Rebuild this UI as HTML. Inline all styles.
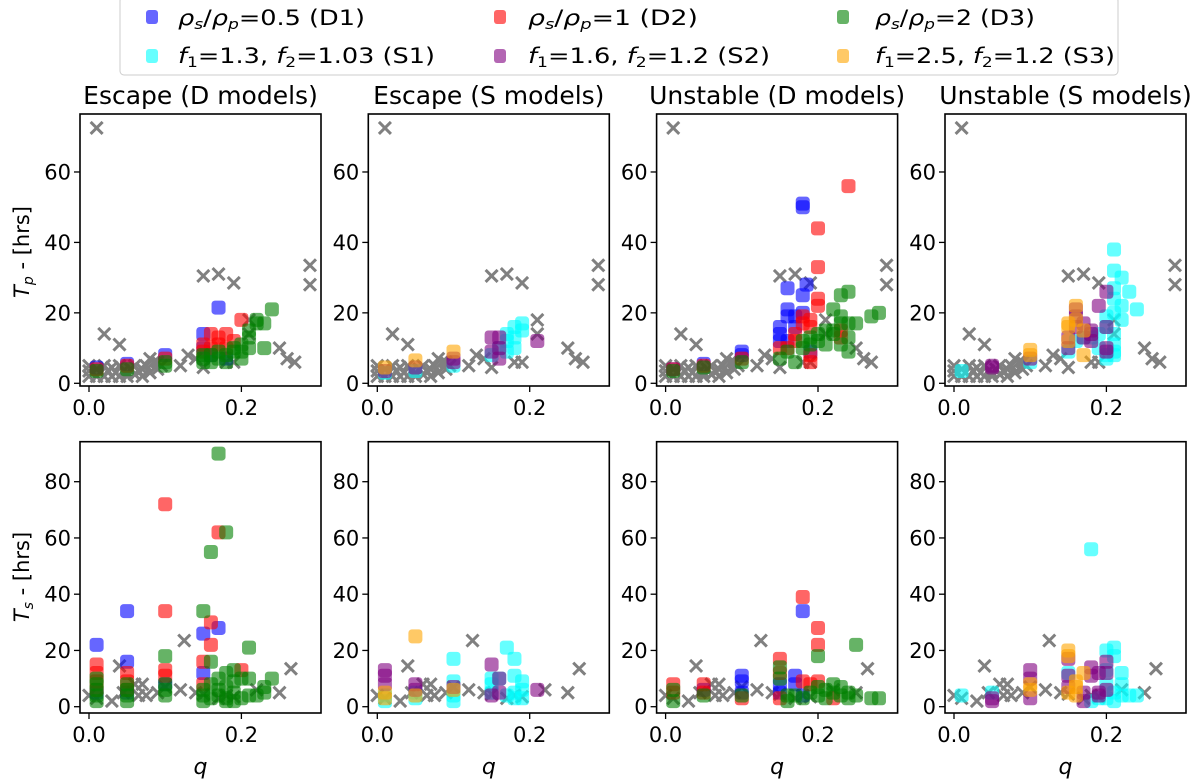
<!DOCTYPE html>
<html><head><meta charset="utf-8"><style>
body{margin:0;background:#fff;}
svg{display:block;font-family:"DejaVu Sans","Liberation Sans",sans-serif;}
</style></head><body>
<svg id="fig" width="1200" height="780" viewBox="0 0 1200 780" xmlns="http://www.w3.org/2000/svg">
<g id="legend">
<rect x="120" y="-3" width="998" height="78" rx="4" fill="#fff" stroke="#ccc" stroke-width="1"/>
<g><rect x="146" y="10" width="12" height="14" rx="3" fill="#0000ff" fill-opacity="0.6"/><text x="178" y="25" font-size="21" textLength="187" lengthAdjust="spacingAndGlyphs"><tspan font-style="italic">ρ</tspan><tspan font-size="14" dy="4" font-style="italic">s</tspan><tspan dy="-4">/</tspan><tspan font-style="italic">ρ</tspan><tspan font-size="14" dy="4" font-style="italic">p</tspan><tspan dy="-4">=0.5 (D1)</tspan></text></g>
<g><rect x="494" y="10" width="12" height="14" rx="3" fill="#ff0000" fill-opacity="0.6"/><text x="528" y="25" font-size="21" textLength="170" lengthAdjust="spacingAndGlyphs"><tspan font-style="italic">ρ</tspan><tspan font-size="14" dy="4" font-style="italic">s</tspan><tspan dy="-4">/</tspan><tspan font-style="italic">ρ</tspan><tspan font-size="14" dy="4" font-style="italic">p</tspan><tspan dy="-4">=1 (D2)</tspan></text></g>
<g><rect x="837" y="10" width="12" height="14" rx="3" fill="#008000" fill-opacity="0.6"/><text x="875" y="25" font-size="21" textLength="160" lengthAdjust="spacingAndGlyphs"><tspan font-style="italic">ρ</tspan><tspan font-size="14" dy="4" font-style="italic">s</tspan><tspan dy="-4">/</tspan><tspan font-style="italic">ρ</tspan><tspan font-size="14" dy="4" font-style="italic">p</tspan><tspan dy="-4">=2 (D3)</tspan></text></g>
<g><rect x="146" y="49" width="12" height="14" rx="3" fill="#00ffff" fill-opacity="0.6"/><text x="178" y="63" font-size="21" textLength="257" lengthAdjust="spacingAndGlyphs"><tspan font-style="italic">f</tspan><tspan font-size="14" dy="4">1</tspan><tspan dy="-4">=1.3, </tspan><tspan font-style="italic">f</tspan><tspan font-size="14" dy="4">2</tspan><tspan dy="-4">=1.03 (S1)</tspan></text></g>
<g><rect x="494" y="49" width="12" height="14" rx="3" fill="#800080" fill-opacity="0.6"/><text x="528" y="63" font-size="21" textLength="242" lengthAdjust="spacingAndGlyphs"><tspan font-style="italic">f</tspan><tspan font-size="14" dy="4">1</tspan><tspan dy="-4">=1.6, </tspan><tspan font-style="italic">f</tspan><tspan font-size="14" dy="4">2</tspan><tspan dy="-4">=1.2 (S2)</tspan></text></g>
<g><rect x="837" y="49" width="12" height="14" rx="3" fill="#ffa500" fill-opacity="0.6"/><text x="875" y="63" font-size="21" textLength="240" lengthAdjust="spacingAndGlyphs"><tspan font-style="italic">f</tspan><tspan font-size="14" dy="4">1</tspan><tspan dy="-4">=2.5, </tspan><tspan font-style="italic">f</tspan><tspan font-size="14" dy="4">2</tspan><tspan dy="-4">=1.2 (S3)</tspan></text></g>
</g>
<text x="0" y="0" font-size="21" text-anchor="middle" transform="translate(29,252) rotate(-90)"><tspan font-style="italic">T</tspan><tspan font-size="14" dy="4" font-style="italic">p</tspan><tspan dy="-4"> - [hrs]</tspan></text>
<text x="0" y="0" font-size="21" text-anchor="middle" transform="translate(29,577) rotate(-90)"><tspan font-style="italic">T</tspan><tspan font-size="14" dy="4" font-style="italic">s</tspan><tspan dy="-4">  - [hrs]</tspan></text>
</svg>
<script>
// ---- data ----
const titles = ["Escape (D models)","Escape (S models)","Unstable (D models)","Unstable (S models)"];
const xTicks = [0.0, 0.2];
const xTickLabels = ["0.0","0.2"];
const yTicksTop = [0,20,40,60];
const yTicksBot = [0,20,40,60,80];
const crossTop = [[0.01,72.5],[0.02,14],[0.04,11],[0.15,30.5],[0.17,31],[0.19,28.5],[0.29,33.5],[0.29,28],[0.21,18],[0.21,14],[0.25,10],[0.26,7],[0.27,6],[0.19,6],[0.18,6],[0.12,5],[0.13,8],[0.14,7],[0.15,4.5],[0.08,7],[0.09,6],[0.07,4],
[0,2],[0,3.5],[0,5],[0.01,2],[0.01,4],[0.015,3],[0.02,2],[0.02,5],[0.025,3.5],[0.03,2],[0.03,4.5],[0.035,3],[0.04,2],[0.04,5],[0.045,3.5],[0.05,2],[0.055,4],[0.06,2.5],[0.06,5],[0.065,3.5],[0.07,2],[0.075,5],[0.08,3],[0.085,6],[0.09,4],[0.095,5],[0.05,3]];
const crossBot = [[0.00,4],[0.01,3],[0.03,2],[0.04,14.5],[0.045,5],[0.06,8],[0.065,4],[0.07,8],[0.075,4],[0.09,5],[0.1,7],[0.12,6],[0.125,23.5],[0.14,5],[0.15,4.5],[0.17,3],[0.18,4],[0.19,3.5],[0.22,6],[0.25,5],[0.265,13.5]];
const escD_top_D1 = [[0.01,4.5],[0.05,5.5],[0.1,8],[0.15,14],[0.15,10],[0.17,21.5],[0.16,8],[0.18,7]];
const escD_top_D2 = [[0.01,4],[0.05,5],[0.1,7],[0.15,9],[0.15,11],[0.16,14],[0.17,13],[0.18,14],[0.19,12],[0.2,18],[0.16,10],[0.17,11],[0.18,10]];
const escD_top_D3 = [[0.01,3.5],[0.05,4],[0.1,5],[0.1,6],[0.15,6],[0.15,7],[0.15,8],[0.16,6],[0.16,8],[0.17,7],[0.17,9],[0.18,6],[0.18,8],[0.19,9],[0.19,10],[0.2,7],[0.2,11],[0.21,13],[0.21,15],[0.22,17],[0.22,18],[0.23,17],[0.24,21],[0.23,10],[0.2,9],[0.21,10]];
const escS_top_S1 = [[0.01,3],[0.05,3.5],[0.1,5],[0.15,8],[0.16,10],[0.17,12],[0.17,14],[0.18,13],[0.18,16],[0.19,15],[0.19,17],[0.18,10],[0.17,9]];
const escS_top_S2 = [[0.01,3.5],[0.05,4.5],[0.1,6],[0.1,7],[0.15,13],[0.16,13],[0.16,10],[0.21,12],[0.15,9],[0.16,7]];
const escS_top_S3 = [[0.01,4.5],[0.05,6.5],[0.1,9]];
const unsD_top_D1 = [[0.01,4],[0.05,5.5],[0.1,8],[0.1,9],[0.15,16],[0.15,14],[0.16,21],[0.16,19],[0.16,12],[0.16,27],[0.17,19],[0.17,16],[0.18,25],[0.18,20],[0.18,50],[0.18,51],[0.185,28],[0.15,12],[0.19,9]];
const unsD_top_D2 = [[0.01,4],[0.05,5],[0.1,7],[0.15,10],[0.16,10],[0.17,12],[0.17,14],[0.18,17],[0.18,19],[0.19,16],[0.19,18],[0.2,24],[0.2,22],[0.2,33],[0.2,44],[0.24,56],[0.23,15],[0.23,13],[0.19,8],[0.19,6]];
const unsD_top_D3 = [[0.01,3.5],[0.05,4.5],[0.1,6],[0.15,7],[0.16,9],[0.17,6],[0.18,10],[0.18,12],[0.19,11],[0.19,13],[0.2,14],[0.2,12],[0.21,15],[0.21,11],[0.22,14],[0.22,15],[0.22,21],[0.23,25],[0.23,19],[0.23,17],[0.24,26],[0.24,17],[0.24,13],[0.24,9],[0.25,17],[0.27,19],[0.28,20],[0.23,11]];
const unsS_top_S1 = [[0.01,3.5],[0.1,6],[0.15,9],[0.16,12],[0.17,13],[0.18,13],[0.19,10],[0.19,14],[0.2,16],[0.2,19],[0.2,8],[0.21,11],[0.21,20],[0.21,24],[0.21,27],[0.21,32],[0.21,38],[0.22,22],[0.22,30],[0.22,18],[0.21,14],[0.21,9],[0.23,26],[0.24,21],[0.2,7],[0.21,8]];
const unsS_top_S2 = [[0.05,4.5],[0.05,5],[0.1,7],[0.15,10],[0.15,13],[0.16,16],[0.16,19],[0.16,21],[0.17,17],[0.18,14],[0.18,15],[0.18,12],[0.19,22],[0.2,10],[0.2,16],[0.2,9],[0.2,26],[0.17,13]];
const unsS_top_S3 = [[0.1,8],[0.1,9.5],[0.15,12],[0.15,17],[0.15,16],[0.16,22],[0.16,18],[0.17,15],[0.17,8]];
const escD_bot_D1 = [[0.01,22],[0.05,34],[0.05,16],[0.1,8],[0.15,26],[0.15,12],[0.17,28],[0.01,5],[0.05,5]];
const escD_bot_D2 = [[0.01,15],[0.01,12],[0.01,9],[0.05,12],[0.05,9],[0.1,72],[0.1,34],[0.1,13],[0.1,11],[0.15,16],[0.15,8],[0.16,30],[0.16,22],[0.17,62],[0.2,13],[0.01,6],[0.05,6]];
const escD_bot_D3 = [[0.01,2],[0.01,4],[0.01,6],[0.01,8],[0.01,10],[0.05,2],[0.05,4],[0.05,6],[0.05,8],[0.1,4],[0.1,6],[0.1,8],[0.1,18],[0.15,34],[0.15,2],[0.15,4],[0.15,6],[0.16,55],[0.17,90],[0.18,62],[0.16,16],[0.16,3],[0.16,8],[0.17,4],[0.17,10],[0.17,6],[0.18,3],[0.18,7],[0.18,12],[0.19,5],[0.19,9],[0.19,13],[0.2,3],[0.2,10],[0.21,21],[0.21,4],[0.21,10],[0.22,4],[0.23,5],[0.23,7],[0.24,10],[0.18,2],[0.19,2]];
const escS_bot_S1 = [[0.01,2],[0.01,4],[0.05,3],[0.05,5],[0.1,2],[0.1,4],[0.1,6],[0.1,9],[0.1,17],[0.15,5],[0.15,8],[0.15,10],[0.16,10],[0.17,21],[0.18,17],[0.18,11],[0.18,5],[0.19,9],[0.19,6],[0.17,4],[0.18,3],[0.19,3]];
const escS_bot_S2 = [[0.01,13],[0.01,11],[0.01,8],[0.05,8],[0.05,6],[0.1,7],[0.15,15],[0.15,4],[0.16,10],[0.16,5],[0.21,6]];
const escS_bot_S3 = [[0.01,3],[0.01,5],[0.05,25],[0.05,4],[0.1,6]];
const unsD_bot_D1 = [[0.05,6],[0.1,11],[0.1,9],[0.1,5],[0.15,8],[0.15,5],[0.18,34],[0.17,11],[0.17,8],[0.18,4]];
const unsD_bot_D2 = [[0.01,8],[0.01,5],[0.05,8],[0.05,5],[0.1,3],[0.15,17],[0.15,12],[0.15,3],[0.18,39],[0.2,28],[0.2,22],[0.18,9],[0.19,8],[0.2,9],[0.22,3]];
const unsD_bot_D3 = [[0.01,6],[0.01,2],[0.05,4],[0.1,4],[0.15,14],[0.15,10],[0.16,4],[0.16,2],[0.17,4],[0.18,3],[0.19,5],[0.2,18],[0.2,4],[0.2,7],[0.21,6],[0.21,3],[0.22,5],[0.22,8],[0.23,7],[0.23,4],[0.24,5],[0.24,3],[0.25,22],[0.25,4],[0.27,3],[0.28,3]];
const unsS_bot_S1 = [[0.01,4],[0.05,5],[0.15,12],[0.18,56],[0.2,20],[0.21,21],[0.21,18],[0.2,13],[0.2,8],[0.21,5],[0.21,2],[0.22,12],[0.22,8],[0.22,4],[0.23,4],[0.24,4],[0.2,3],[0.19,3],[0.18,2]];
const unsS_bot_S2 = [[0.05,3],[0.05,2],[0.1,13],[0.1,10],[0.1,3],[0.15,17],[0.15,11],[0.15,7],[0.17,2],[0.17,5],[0.18,14],[0.18,11],[0.19,12],[0.19,5],[0.2,16],[0.2,12],[0.2,6],[0.19,4]];
const unsS_bot_S3 = [[0.1,8],[0.1,6],[0.15,20],[0.15,18],[0.15,5],[0.16,9],[0.16,7],[0.17,12],[0.16,4]];

// ---- layout ----
const NS = "http://www.w3.org/2000/svg";
const svg = document.getElementById("fig");
const panelLefts = [80, 368.3, 656.6, 945];
const boxW = 241;
const TOP = {y0:114, y1:386, zero:383.3, perUnit:3.522};
const BOT = {y0:441.7, y1:713, zero:706.7, perUnit:2.8125};
const colors = {D1:"#0000ff", D2:"#ff0000", D3:"#008000", S1:"#00ffff", S2:"#800080", S3:"#ffa500"};
function xScale(q, left){ return left + 9 + q * 762; }
function yScale(v, row){ return row.zero - v * row.perUnit; }
function mk(tag, attrs, parent){ const e = document.createElementNS(NS, tag); for (const k in attrs) e.setAttribute(k, attrs[k]); (parent||svg).appendChild(e); return e; }

const panels = [
 {row:TOP, col:0, series:[["D1",escD_top_D1],["D2",escD_top_D2],["D3",escD_top_D3]], cross:crossTop},
 {row:TOP, col:1, series:[["S1",escS_top_S1],["S2",escS_top_S2],["S3",escS_top_S3]], cross:crossTop},
 {row:TOP, col:2, series:[["D1",unsD_top_D1],["D2",unsD_top_D2],["D3",unsD_top_D3]], cross:crossTop},
 {row:TOP, col:3, series:[["S1",unsS_top_S1],["S2",unsS_top_S2],["S3",unsS_top_S3]], cross:crossTop},
 {row:BOT, col:0, series:[["D1",escD_bot_D1],["D2",escD_bot_D2],["D3",escD_bot_D3]], cross:crossBot},
 {row:BOT, col:1, series:[["S1",escS_bot_S1],["S2",escS_bot_S2],["S3",escS_bot_S3]], cross:crossBot},
 {row:BOT, col:2, series:[["D1",unsD_bot_D1],["D2",unsD_bot_D2],["D3",unsD_bot_D3]], cross:crossBot},
 {row:BOT, col:3, series:[["S1",unsS_bot_S1],["S2",unsS_bot_S2],["S3",unsS_bot_S3]], cross:crossBot}
];

panels.forEach((p, i) => {
  const left = panelLefts[p.col];
  const row = p.row;
  const isTop = row === TOP;
  const g = mk("g", {});
  
  
  const clipId = "clip" + i;
  const cp = mk("clipPath", {id:clipId}, g);
  mk("rect", {x:left, y:row.y0, width:boxW, height:row.y1-row.y0}, cp);
  const marks = mk("g", {"clip-path":"url(#"+clipId+")"}, g);
  p.cross.forEach(([q,v]) => {
    const cx = xScale(q,left), cy = yScale(v,row), r = 6;
    const c = mk("path", {d:`M${cx-r},${cy-r}L${cx+r},${cy+r}M${cx-r},${cy+r}L${cx+r},${cy-r}`, stroke:"#808080", "stroke-width":3}, marks);
    
    
  });
  p.series.forEach(([name, pts]) => {
    pts.forEach(([q,v]) => {
      const s = 14;
      const r = mk("rect", {x:xScale(q,left)-s/2, y:yScale(v,row)-s/2, width:s, height:s, rx:3.5, fill:colors[name], "fill-opacity":0.6}, marks);
      
      
    });
  });
  const fr = mk("rect", {x:left, y:row.y0, width:boxW, height:row.y1-row.y0, fill:"none", stroke:"#000", "stroke-width":1.6}, g);
  
  
  (isTop ? yTicksTop : yTicksBot).forEach(t => {
    const y = yScale(t,row);
    mk("line", {x1:left-6, x2:left, y1:y, y2:y, stroke:"#000", "stroke-width":1.3}, g);
    const tx = mk("text", {x:left-9, y:y+7.5, "font-size":21, "text-anchor":"end"}, g);
    tx.textContent = String(t);
    
    
  });
  xTicks.forEach((t, k) => {
    const x = xScale(t,left);
    mk("line", {x1:x, x2:x, y1:row.y1, y2:row.y1+6, stroke:"#000", "stroke-width":1.3}, g);
    const tx = mk("text", {x:x, y:row.y1+29, "font-size":21, "text-anchor":"middle"}, g);
    tx.textContent = xTickLabels[k];
    
    
  });
  if (isTop) {
    const tt = mk("text", {x:left+boxW/2, y:104, "font-size":25, "text-anchor":"middle"}, g);
    tt.textContent = titles[p.col];
    
    
  } else {
    const xl = mk("text", {x:left+boxW/2, y:774, "font-size":22, "text-anchor":"middle", "font-style":"italic"}, g);
    xl.textContent = "q";
    
    
  }
});
</script>
</body></html>
